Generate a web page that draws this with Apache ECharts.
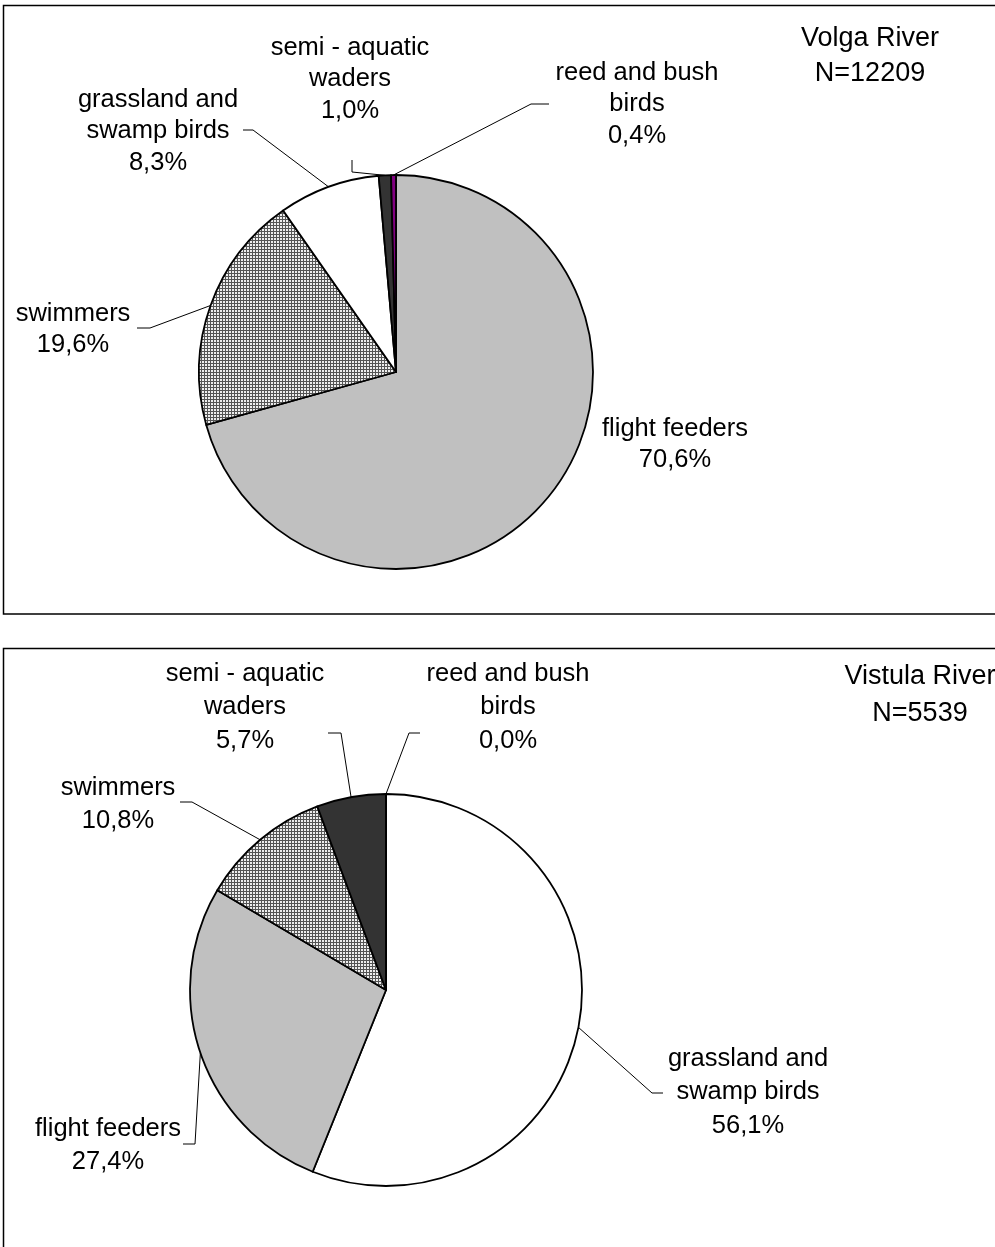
<!DOCTYPE html>
<html>
<head>
<meta charset="utf-8">
<title>Bird groups – Volga and Vistula</title>
<script src="https://cdn.jsdelivr.net/npm/echarts@6/dist/echarts.min.js"></script>
<style>
  html, body { margin: 0; padding: 0; background: #fff; }
  #chart { width: 995px; height: 1247px; }
</style>
</head>
<body>
<div id="chart"></div>
<script>
// Ecological groups of birds (shares in %, one decimal)
const categories = [
  'flight feeders',
  'swimmers',
  'grassland and\nswamp birds',
  'semi - aquatic\nwaders',
  'reed and bush\nbirds'
];
const rivers = ['Volga River', 'Vistula River'];
const totals = [12209, 5539];
const volgaShares = [70.6, 19.6, 8.3, 1.0, 0.4];
const vistulaShares = [27.4, 10.8, 56.1, 5.7, 0.0];
// clockwise drawing order of categories, starting at 12 o'clock
const volgaOrder = [0, 1, 2, 3, 4];
const vistulaOrder = [2, 0, 1, 3, 4];

const FONT = '"Liberation Sans", Arial, Helvetica, sans-serif';

// cross-hatch fill for the swimmers slice
function hatch() {
  const c = document.createElement('canvas');
  c.width = 3; c.height = 3;
  const g = c.getContext('2d');
  g.fillStyle = '#eeeeee';
  g.fillRect(0, 0, 3, 3);
  g.fillStyle = '#555555';
  g.fillRect(0, 0, 3, 1);
  g.fillRect(0, 0, 1, 3);
  return { image: c, repeat: 'repeat' };
}
const fills = ['#c0c0c0', hatch(), '#ffffff', '#333333', '#800080'];

// label placement per category: x = text centre, y = text top, line = [bend, end]
const labelPlace = [
  {
    0: { x: 675, y: 413 },
    1: { x: 73, y: 298, line: [[150, 328], [137, 328]] },
    2: { x: 158, y: 84, line: [[253, 130], [243, 130]] },
    3: { x: 350, y: 32, line: [[352, 172], [352, 160]] },
    4: { x: 637, y: 57, line: [[531, 104], [549, 104]] }
  },
  {
    0: { x: 108, y: 1112, line: [[195, 1144], [183, 1144]] },
    1: { x: 118, y: 771, line: [[192, 802], [180, 802]] },
    2: { x: 748, y: 1042, line: [[652, 1093], [663, 1093]] },
    3: { x: 245, y: 657, line: [[341, 733], [328, 733]] },
    4: { x: 508, y: 657, line: [[409, 733], [420, 733]] }
  }
];

const pies = [
  { shares: volgaShares, order: volgaOrder, center: [396, 372], r: 197, lh: 31.5 },
  { shares: vistulaShares, order: vistulaOrder, center: [386, 990], r: 196, lh: 33.5 }
];

function fmt(v) { return v.toFixed(1).replace('.', ',') + '%'; }

// mid-angle edge point of a slice (fallback for the leader line start)
function edgePoint(pie, k) {
  const total = pie.order.reduce((s, i) => s + pie.shares[i], 0);
  let acc = 0;
  for (let j = 0; j < k; j++) acc += pie.shares[pie.order[j]];
  const mid = (acc + pie.shares[pie.order[k]] / 2) / total * Math.PI * 2;
  return [pie.center[0] + pie.r * Math.sin(mid), pie.center[1] - pie.r * Math.cos(mid)];
}

const series = pies.map((pie, si) => ({
  type: 'pie',
  center: pie.center,
  radius: pie.r,
  startAngle: 90,
  clockwise: true,
  avoidLabelOverlap: false,
  animation: false,
  silent: true,
  minShowLabelAngle: 0,
  itemStyle: { borderColor: '#000', borderWidth: 1.8 },
  label: {
    show: true,
    position: 'outside',
    color: '#000',
    fontFamily: FONT,
    fontSize: 25.5,
    lineHeight: pie.lh,
    align: 'center',
    formatter: p => p.data.label + '\n' + fmt(p.value)
  },
  labelLine: { show: true, length: 10, length2: 10, lineStyle: { color: '#000', width: 1 } },
  labelLayout: params => {
    const cat = pie.order[params.dataIndex];
    const cfg = labelPlace[si][cat];
    const out = { x: cfg.x, y: cfg.y, align: 'center', verticalAlign: 'top' };
    if (cfg.line) {
      const p0 = (params.labelLinePoints && params.labelLinePoints[0]) || edgePoint(pie, params.dataIndex);
      out.labelLinePoints = [p0, cfg.line[0], cfg.line[1]];
    }
    return out;
  },
  data: pie.order.map(cat => ({
    name: categories[cat].replace('\n', ' '),
    label: categories[cat],
    value: pie.shares[cat],
    itemStyle: { color: fills[cat] },
    labelLine: { show: !!labelPlace[si][cat].line }
  }))
}));

const titleText = [
  { x: 870, y: 21, lh: 35 },
  { x: 920, y: 658, lh: 37 }
].map((t, i) => ({
  type: 'text',
  x: t.x,
  y: t.y,
  silent: true,
  style: {
    text: rivers[i] + '\nN=' + totals[i],
    fill: '#000',
    fontFamily: FONT,
    fontSize: 27,
    lineHeight: t.lh,
    align: 'center',
    verticalAlign: 'top'
  }
}));

const frames = [
  { x: 3.5, y: 5.5, width: 1010, height: 608.5 },
  { x: 3.5, y: 648.5, width: 1010, height: 700 }
].map(s => ({
  type: 'rect',
  silent: true,
  z: -1,
  shape: s,
  style: { fill: 'none', stroke: '#000', lineWidth: 1.5 }
}));

const chart = echarts.init(document.getElementById('chart'), null, { renderer: 'canvas' });
chart.setOption({
  backgroundColor: '#fff',
  animation: false,
  graphic: frames.concat(titleText),
  series: series
});
</script>
</body>
</html>
